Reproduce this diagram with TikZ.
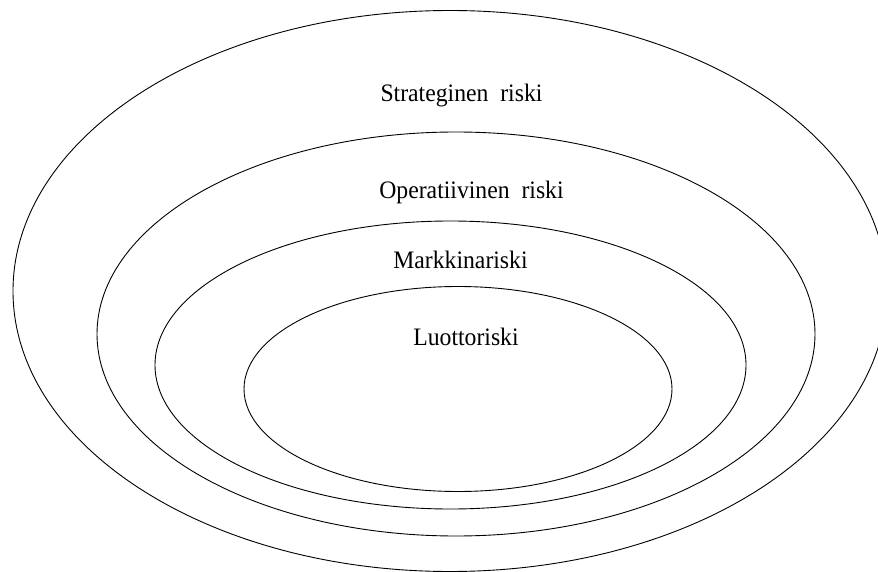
\documentclass[tikz,border=0pt]{standalone}
\usepackage{fontspec}
\setmainfont{Liberation Serif}
\begin{document}
\begin{tikzpicture}[x=1pt,y=-1pt,
  ring/.style={draw=black,line width=0.9pt},
  lbl/.style={anchor=base,inner sep=0pt,font=\fontsize{23.7}{28}\selectfont}]
\useasboundingbox (0,0) rectangle (878,572);
\clip (0,0) rectangle (878,572);
\fill[white] (0,0) rectangle (878,572);
\draw[ring] (450,291) ellipse [x radius=437, y radius=280.5];
\draw[ring] (456,334) ellipse [x radius=359, y radius=202];
\draw[ring] (450.5,365) ellipse [x radius=295.5, y radius=144];
\draw[ring] (458,389) ellipse [x radius=214, y radius=102.5];
\node[lbl] (strat) at (461.5,101.7) {\scalebox{1}[1.06]{Strateginen\ \ riski}};
\node[lbl] (oper) at (471.5,198.3) {\scalebox{1}[1.06]{Operatiivinen\ \ riski}};
\node[lbl] (mark) at (460.5,268.3) {\scalebox{1}[1.06]{Markkinariski}};
\node[lbl] (luot) at (466,345.7) {\scalebox{1}[1.06]{Luottoriski}};
\end{tikzpicture}
\end{document}
